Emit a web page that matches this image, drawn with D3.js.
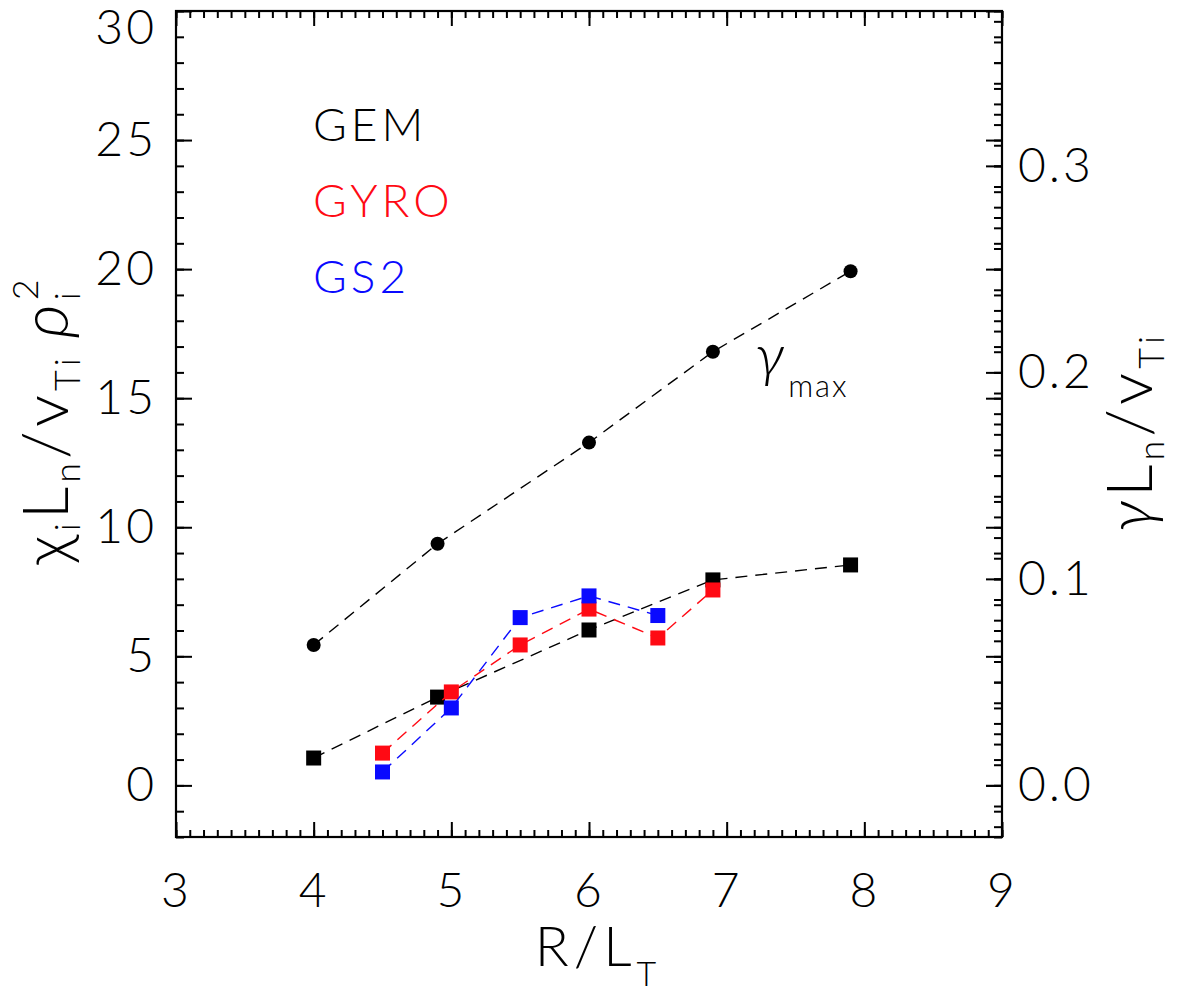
<!DOCTYPE html>
<html>
<head>
<meta charset="utf-8">
<script src="https://cdn.jsdelivr.net/npm/d3@7"></script>
<style>
  body { margin: 0; background: #fff; }
  svg { display: block; }
  text { font-family: Lato, "Liberation Sans", sans-serif; font-weight: 300; }
</style>
</head>
<body>
<div id="chart"></div>
<script>
// R/L_T scan, chi values
const rltGem = [4.0, 4.9, 6.0, 6.9, 7.9];
const chiGem = [1.06, 3.42, 6.02, 7.96, 8.54];
const rltGyro = [4.5, 5.0, 5.5, 6.0, 6.5, 6.9];
const chiGyro = [1.25, 3.62, 5.44, 6.83, 5.71, 7.57];
const rltGs2 = [4.5, 5.0, 5.5, 6.0, 6.5];
const chiGs2 = [0.52, 3.0, 6.5, 7.34, 6.58];
// linear growth rate (right axis)
const rltGamma = [4.0, 4.9, 6.0, 6.9, 7.9];
const gammaMax = [0.068, 0.117, 0.166, 0.210, 0.249];

const xTicks = [3, 4, 5, 6, 7, 8, 9];
const yTicks = [0, 5, 10, 15, 20, 25, 30];
const gTicks = [0.0, 0.1, 0.2, 0.3];
const legendNames = ["GEM", "GYRO", "GS2"];
const legendColors = ["#000000", "#ff0a14", "#0a0aff"];

const width = 1178, height = 995;
const marginLeft = 176, marginTop = 11, plotW = 826, plotH = 826;

const svg = d3.select("#chart").append("svg")
    .attr("width", width)
    .attr("height", height);

const x = d3.scaleLinear().domain([3, 9]).range([marginLeft, marginLeft + plotW]);
const y = d3.scaleLinear().domain([-2, 30]).range([marginTop + plotH, marginTop]);
const yg = d3.scaleLinear().domain([-0.025, 0.375]).range([marginTop + plotH, marginTop]);

const tickFont = 48;

function styleAxis(g) {
    g.select(".domain").remove();
    g.selectAll("line").attr("stroke", "#000").attr("stroke-width", 2);
    g.selectAll("text")
        .attr("fill", "#000")
        .attr("font-family", null)
        .attr("font-size", null)
        .style("font-size", tickFont + "px")
        .style("letter-spacing", "3px");
}

const bottomY = marginTop + plotH;
const rightX = marginLeft + plotW;

// bottom axis
svg.append("g")
    .attr("transform", `translate(0,${bottomY})`)
    .call(d3.axisBottom(x).tickValues(d3.range(3, 9.001, 0.1)).tickSize(-7).tickFormat(""))
    .call(styleAxis);
svg.append("g")
    .attr("transform", `translate(0,${bottomY})`)
    .call(d3.axisBottom(x).tickValues(xTicks).tickSize(-15).tickPadding(36).tickFormat(d3.format("d")))
    .call(styleAxis);

// top axis (mirror)
svg.append("g")
    .attr("transform", `translate(0,${marginTop})`)
    .call(d3.axisTop(x).tickValues(d3.range(3, 9.001, 0.1)).tickSize(-7).tickFormat(""))
    .call(styleAxis);
svg.append("g")
    .attr("transform", `translate(0,${marginTop})`)
    .call(d3.axisTop(x).tickValues(xTicks).tickSize(-15).tickFormat(""))
    .call(styleAxis);

// left axis
svg.append("g")
    .attr("transform", `translate(${marginLeft},0)`)
    .call(d3.axisLeft(y).tickValues(d3.range(-2, 30.001, 1)).tickSize(-8).tickFormat(""))
    .call(styleAxis);
const leftAxis = svg.append("g")
    .attr("transform", `translate(${marginLeft},0)`)
    .call(d3.axisLeft(y).tickValues(yTicks).tickSize(-16).tickPadding(19).tickFormat(d3.format("d")))
    .call(styleAxis);
// top label sits inside the frame like the original
leftAxis.selectAll(".tick text").filter(d => d === 30).attr("dy", "0.68em");

// right side: mirrored chi ticks plus gamma axis
svg.append("g")
    .attr("transform", `translate(${rightX},0)`)
    .call(d3.axisRight(y).tickValues(d3.range(-2, 30.001, 1)).tickSize(-8).tickFormat(""))
    .call(styleAxis);
svg.append("g")
    .attr("transform", `translate(${rightX},0)`)
    .call(d3.axisRight(y).tickValues(yTicks).tickSize(-16).tickFormat(""))
    .call(styleAxis);
svg.append("g")
    .attr("transform", `translate(${rightX},0)`)
    .call(d3.axisRight(yg).tickValues(d3.range(-0.02, 0.3701, 0.01)).tickSize(-8).tickFormat(""))
    .call(styleAxis);
svg.append("g")
    .attr("transform", `translate(${rightX},0)`)
    .call(d3.axisRight(yg).tickValues(gTicks).tickSize(-16).tickPadding(16).tickFormat(d3.format(".1f")))
    .call(styleAxis);

// frame
svg.append("rect")
    .attr("x", marginLeft).attr("y", marginTop)
    .attr("width", plotW).attr("height", plotH)
    .attr("fill", "none")
    .attr("stroke", "#000")
    .attr("stroke-width", 2.2);

const line = d3.line().x(d => x(d[0])).y(d => y(d[1]));

function drawSeries(xs, ys, color, shape) {
    const pts = xs.map((v, i) => [v, ys[i]]);
    svg.append("path")
        .datum(pts)
        .attr("d", line)
        .attr("fill", "none")
        .attr("stroke", color)
        .attr("stroke-width", 1.4)
        .attr("stroke-dasharray", "12,8");
    if (shape === "square") {
        svg.selectAll(null).data(pts).enter().append("rect")
            .attr("x", d => x(d[0]) - 7.5)
            .attr("y", d => y(d[1]) - 7.5)
            .attr("width", 15).attr("height", 15)
            .attr("fill", color);
    } else {
        svg.selectAll(null).data(pts).enter().append("circle")
            .attr("cx", d => x(d[0]))
            .attr("cy", d => y(d[1]))
            .attr("r", 7)
            .attr("fill", color);
    }
}

// gamma plotted against the chi axis through the right-hand scale
const gammaAsChi = gammaMax.map(g => y.invert(yg(g)));
drawSeries(rltGamma, gammaAsChi, "#000", "circle");
drawSeries(rltGem, chiGem, legendColors[0], "square");
drawSeries(rltGyro, chiGyro, legendColors[1], "square");
drawSeries(rltGs2, chiGs2, legendColors[2], "square");

// legend
legendNames.forEach((name, i) => {
    svg.append("text")
        .attr("x", 313)
        .attr("y", 141 + i * 76)
        .attr("fill", legendColors[i])
        .style("font-size", "46px")
        .style("letter-spacing", "4px")
        .text(name);
});

// gamma_max label
const gl = svg.append("text")
    .attr("x", 755).attr("y", 376)
    .attr("fill", "#000");
gl.append("tspan").style("font-size", "60px").style("font-style", "italic").text("γ");
gl.append("tspan").attr("dx", 4).attr("dy", 21).style("font-size", "31px").style("letter-spacing", "2px").text("max");

// x title
const xt = svg.append("text")
    .attr("x", 598).attr("y", 966)
    .attr("text-anchor", "middle")
    .attr("fill", "#000")
    .style("font-size", "56px")
    .style("letter-spacing", "5px");
xt.append("tspan").text("R/L");
xt.append("tspan").attr("dy", 20).style("font-size", "34px").text("T");

// left title
const lt = svg.append("text")
    .attr("transform", "translate(68,420) rotate(-90)")
    .attr("text-anchor", "middle")
    .attr("fill", "#000")
    .style("font-size", "64px")
    .style("letter-spacing", "4px");
lt.append("tspan").text("χ");
lt.append("tspan").attr("dy", 12).style("font-size", "36px").text("i");
lt.append("tspan").attr("dy", -12).text("L");
lt.append("tspan").attr("dy", 12).style("font-size", "36px").text("n");
lt.append("tspan").attr("dy", -12).text("/v");
lt.append("tspan").attr("dy", 12).style("font-size", "36px").text("Ti");
lt.append("tspan").attr("dy", -12).attr("dx", 16).style("font-style", "italic").style("font-size", "66px").text("ρ");
lt.append("tspan").attr("dy", 12).style("font-size", "36px").text("i");
lt.append("tspan").attr("dx", -12).attr("dy", -42).style("font-size", "36px").text("2");

// right title
const rt = svg.append("text")
    .attr("transform", "translate(1152,432) rotate(-90)")
    .attr("text-anchor", "middle")
    .attr("fill", "#000")
    .style("font-size", "64px")
    .style("letter-spacing", "4px");
rt.append("tspan").style("font-style", "italic").text("γ");
rt.append("tspan").text("L");
rt.append("tspan").attr("dy", 12).style("font-size", "36px").text("n");
rt.append("tspan").attr("dy", -12).text("/v");
rt.append("tspan").attr("dy", 12).style("font-size", "36px").text("Ti");
</script>
</body>
</html>
